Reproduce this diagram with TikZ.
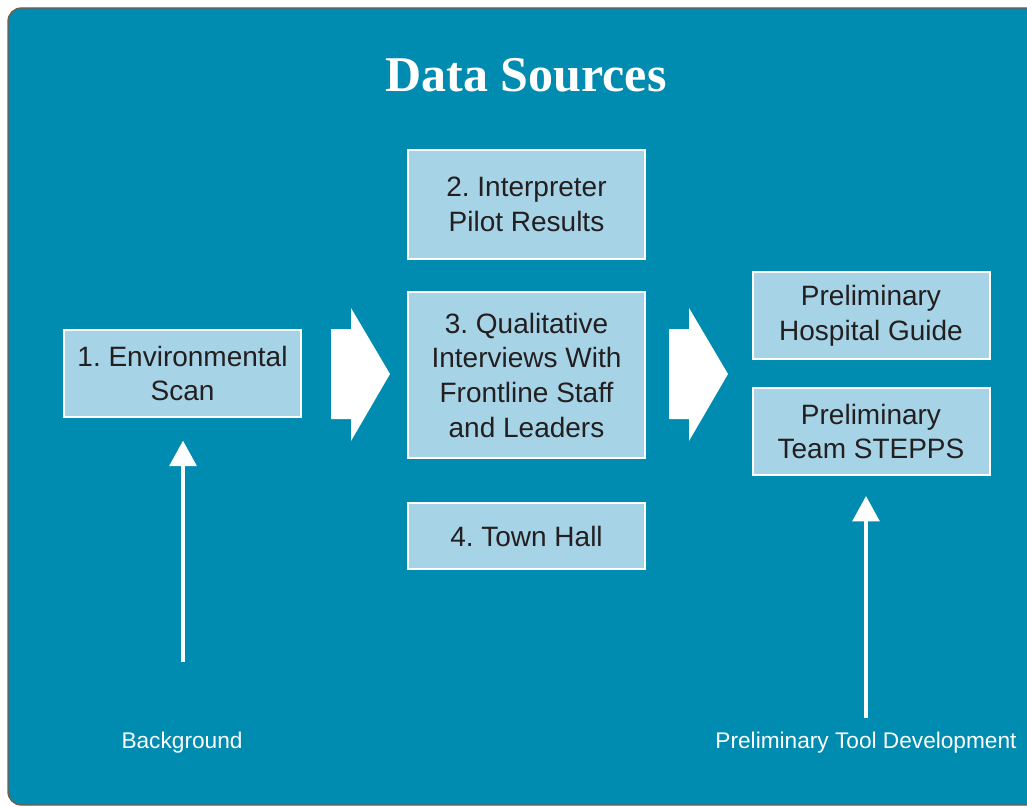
\documentclass[tikz,border=0pt]{standalone}
\usepackage{fontspec}
\setmainfont{Liberation Sans}
\newfontfamily\titlefont{Liberation Serif}
\usetikzlibrary{arrows.meta,positioning}
\frenchspacing
\definecolor{panelblue}{HTML}{008CB0}
\definecolor{boxblue}{HTML}{A6D3E6}
\definecolor{boxtext}{HTML}{231F20}
\definecolor{rimbrown}{HTML}{7A5A48}
\tikzset{
  srcbox/.style={draw=white, line width=1.5pt, fill=boxblue, text=boxtext,
    inner sep=0pt, minimum width=177.75pt, align=center,
    font=\fontsize{21}{26}\selectfont},
  uparrow/.style={draw=white, line width=3pt, -{Triangle[width=20pt,length=19pt]}},
  phaselabel/.style={text=white, font=\fontsize{17}{20}\selectfont},
}
\begin{document}
\begin{tikzpicture}[x=0.75pt,y=-0.75pt]
\useasboundingbox (0,0) rectangle (1027,806);
% panel
\filldraw[fill=panelblue, draw=rimbrown, line width=1pt, rounded corners=10pt]
  (8,8) rectangle (1045,805);
\node[text=white, font=\titlefont\bfseries\fontsize{37.5}{40}\selectfont] (title) at (526,75) {Data Sources};
% source boxes
\node[srcbox, minimum height=65.25pt] (envscan) at (182.5,373.5) {1. Environmental\\Scan};
\node[srcbox, minimum height=81.75pt] (pilot) at (526.5,204.5) {2. Interpreter\\Pilot Results};
\node[srcbox, minimum height=124.5pt] (interviews) at (526.5,375) {3. Qualitative\\Interviews With\\Frontline Staff\\and Leaders};
\node[srcbox, minimum height=49.5pt] (townhall) at (526.5,536) {4. Town Hall};
% tools
\node[srcbox, minimum height=65.25pt] (guide) at (871,315.5) {Preliminary\\Hospital Guide};
\node[srcbox, minimum height=65.25pt] (stepps) at (871,431.5) {Preliminary\\Team STEPPS};
% big arrows
\foreach \dx in {0,338}
  \fill[white, shift={(\dx,0)}] (331,329) -- (351,329) -- (351,308) -- (390,374)
    -- (351,441) -- (351,419) -- (331,419) -- cycle;
% phases
\node[phaselabel] (background) at (182,743) {Background};
\node[phaselabel] (tooldev) at (866,743) {Preliminary Tool Development};
\coordinate (bgfoot) at (183,662);
\coordinate (toolfoot) at (866,718);
\draw[uparrow, shorten >=17pt] (bgfoot) -- (bgfoot |- envscan.south);
\draw[uparrow, shorten >=15pt] (toolfoot) -- (toolfoot |- stepps.south);
\end{tikzpicture}
\end{document}
